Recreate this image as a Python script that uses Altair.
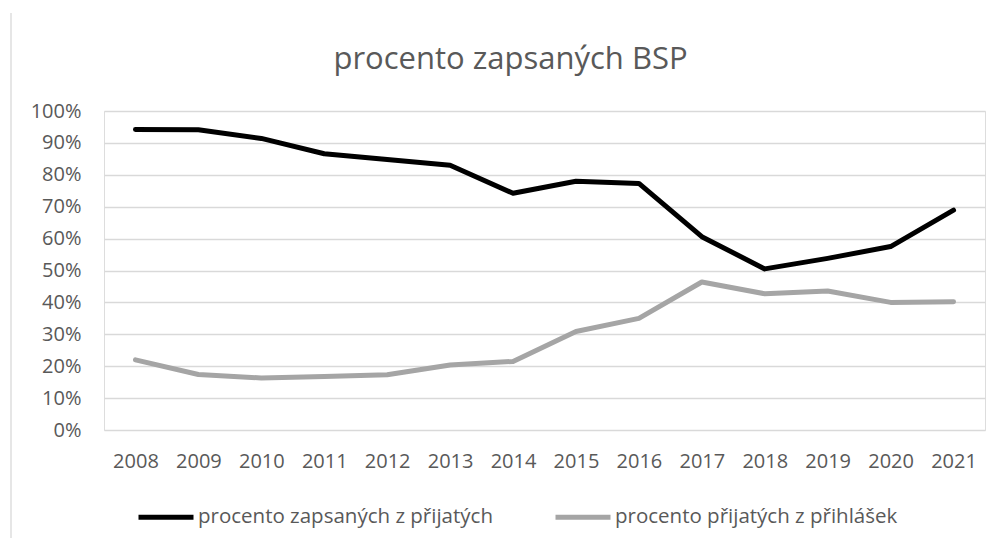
import altair as alt
import pandas as pd

years = [str(y) for y in range(2008, 2022)]
zapsanych_z_prijatych = [0.942, 0.941, 0.914, 0.866, 0.848, 0.830, 0.742,
                         0.780, 0.773, 0.606, 0.505, 0.538, 0.575, 0.689]
prijatych_z_prihlasek = [0.220, 0.174, 0.163, 0.168, 0.173, 0.204, 0.215,
                         0.309, 0.350, 0.464, 0.427, 0.436, 0.400, 0.402]
series_names = ["procento zapsaných z přijatých", "procento přijatých z přihlášek"]
series_colors = ["#000000", "#A5A5A5"]
y_ticks = [0, 0.1, 0.2, 0.3, 0.4, 0.5, 0.6, 0.7, 0.8, 0.9, 1.0]

rows = []
for i, y in enumerate(years):
    rows.append({"rok": y, "řada": series_names[0], "hodnota": zapsanych_z_prijatych[i]})
    rows.append({"rok": y, "řada": series_names[1], "hodnota": prijatych_z_prihlasek[i]})
df = pd.DataFrame(rows)

FONT = "Open Sans"
TXT = "#595959"

lines = alt.Chart(df).mark_line(strokeWidth=5, strokeCap="round", strokeJoin="round").encode(
    x=alt.X("rok:O", sort=years, title=None,
            scale=alt.Scale(type="point", padding=0.5),
            axis=alt.Axis(labelAngle=0, ticks=False, domain=False, grid=False,
                          labelPadding=31, labelBaseline="middle",
                          labelFontSize=20, labelColor=TXT, labelFont=FONT)),
    y=alt.Y("hodnota:Q", title=None,
            scale=alt.Scale(domain=[0, 1], nice=False),
            axis=alt.Axis(values=y_ticks, format=".0%", ticks=False, domain=False,
                          grid=True, gridColor="#D9D9D9", gridWidth=1.3,
                          labelPadding=23, labelFontSize=20, labelColor=TXT,
                          labelFont=FONT)),
    color=alt.Color("řada:N", sort=series_names,
                    scale=alt.Scale(domain=series_names, range=series_colors),
                    legend=alt.Legend(title=None, orient="none", direction="horizontal",
                                      legendX=32, legendY=376,
                                      symbolType="stroke", symbolSize=3025,
                                      symbolStrokeWidth=5, labelOffset=2,
                                      columnPadding=52, labelFontSize=20.5,
                                      labelLimit=0,
                                      labelColor=TXT, labelFont=FONT)),
)

border = alt.Chart(pd.DataFrame({"k": [0]})).mark_rule(color="#D9D9D9", strokeWidth=1.3).encode(
    x=alt.value(-93), y=alt.value(-98), y2=alt.value(427)
)

chart = alt.layer(border, lines).properties(
    width=881, height=319,
    title=alt.TitleParams("procento zapsaných BSP", font=FONT, fontSize=31,
                          fontWeight="normal", color=TXT, anchor="middle",
                          baseline="bottom", dx=-34, dy=95, offset=0),
    autosize=alt.AutoSizeParams(type="none"),
    padding={"left": 96, "top": 103, "right": 12, "bottom": 108},
).configure_view(stroke=None).configure(background="white")

chart.save("out.html", embed_options={"renderer": "svg", "actions": False})
